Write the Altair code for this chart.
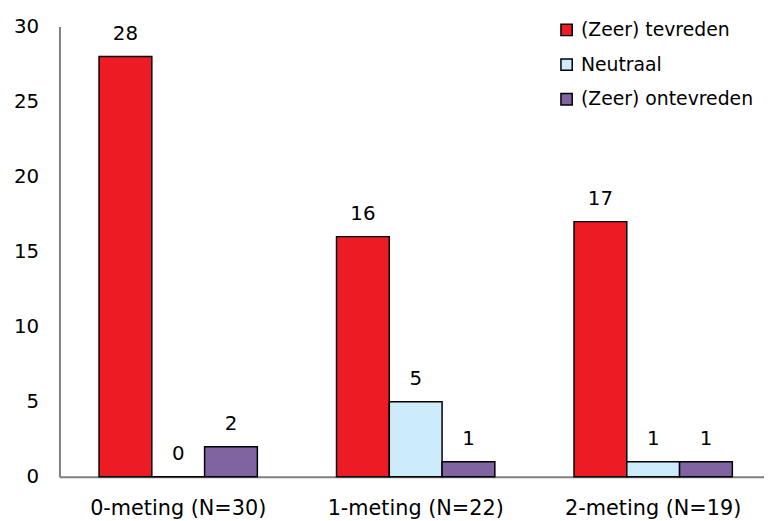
import altair as alt
import pandas as pd

groups = ["0-meting (N=30)", "1-meting (N=22)", "2-meting (N=19)"]
series = ["(Zeer) tevreden", "Neutraal", "(Zeer) ontevreden"]
tevreden = [28, 16, 17]
neutraal = [0, 5, 1]
ontevreden = [2, 1, 1]
colors = ["#ED1C24", "#CCECFB", "#8064A2"]

rows = []
for s, vals in zip(series, [tevreden, neutraal, ontevreden]):
    for g, v in zip(groups, vals):
        rows.append({"groep": g, "reeks": s, "waarde": v})
df = pd.DataFrame(rows)

FONT = "DejaVu Sans"

x = alt.X("groep:N", sort=groups, title=None,
          scale=alt.Scale(paddingInner=1/3, paddingOuter=0.15, align=0.5556),
          axis=alt.Axis(labelAngle=0, ticks=False, domainColor="#808080", domainWidth=2,
                        labelFontSize=21, labelFont=FONT, labelColor="black", labelPadding=21))
xo = alt.XOffset("reeks:N", sort=series)

base = alt.Chart(df).encode(x=x, xOffset=xo)

bars = base.mark_bar(stroke="black", strokeWidth=1.5).encode(
    y=alt.Y("waarde:Q", title=None,
            scale=alt.Scale(domain=[0, 30], nice=False),
            axis=alt.Axis(values=[0, 5, 10, 15, 20, 25, 30], ticks=False, grid=False,
                          domainColor="#808080", domainWidth=2,
                          labelFontSize=20, labelFont=FONT, labelColor="black", labelPadding=21)),
    color=alt.Color("reeks:N", sort=series,
                    scale=alt.Scale(domain=series, range=colors),
                    legend=alt.Legend(title=None, orient="none", legendX=503, legendY=-6,
                                      symbolType="square", symbolSize=130, symbolStrokeColor="black",
                                      symbolStrokeWidth=1.5, labelFontSize=19, labelFont=FONT,
                                      labelColor="black", rowPadding=15, labelOffset=5,
                                      labelLimit=400, symbolOpacity=1)),
)

labels = base.mark_text(dy=-23, fontSize=20, font=FONT, color="black").encode(
    y=alt.Y("waarde:Q"),
    text=alt.Text("waarde:Q"),
)

chart = (bars + labels).properties(
    width=712, height=455,
    autosize=alt.AutoSizeParams(type="none"),
    padding={"left": 52, "top": 16, "right": 0, "bottom": 42},
).configure_view(stroke=None)

chart.save("out.html", embed_options={"renderer": "svg", "actions": False})
